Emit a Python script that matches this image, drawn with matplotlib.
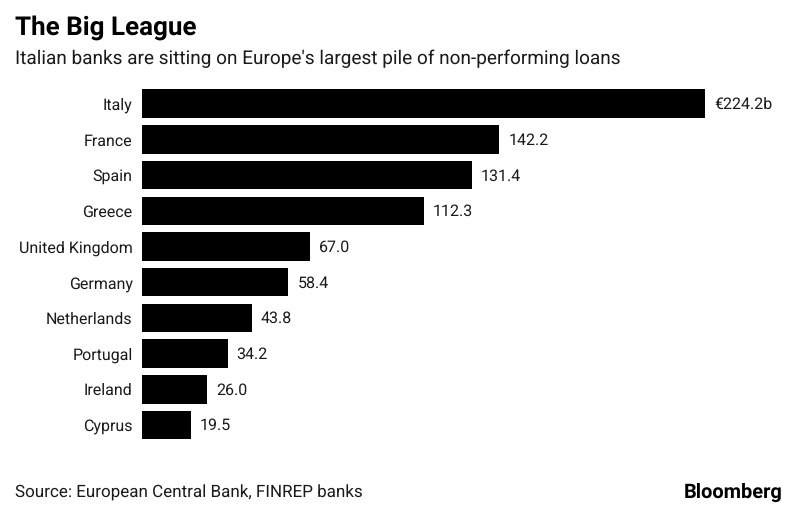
import matplotlib
matplotlib.use("Agg")
import matplotlib.pyplot as plt

countries = ["Italy", "France", "Spain", "Greece", "United Kingdom", "Germany",
             "Netherlands", "Portugal", "Ireland", "Cyprus"]
values = [224.2, 142.2, 131.4, 112.3, 67.0, 58.4, 43.8, 34.2, 26.0, 19.5]
labels = ["€224.2b", "142.2", "131.4", "112.3", "67.0", "58.4", "43.8", "34.2", "26.0", "19.5"]

W, H = 800, 505
plt.rcParams['font.family'] = ['Roboto', 'Liberation Sans', 'DejaVu Sans']
plt.rcParams['text.hinting'] = 'no_hinting'
plt.rcParams['text.hinting_factor'] = 1
fig = plt.figure(figsize=(W/100, H/100), dpi=100, facecolor='white')
step = (425 - 103.7) / 9
top_px = 103.7 - step/2
bot_px = 425 + step/2
ax = fig.add_axes([141.5/W, 1 - bot_px/H, (705.5-141.5)/W, (bot_px-top_px)/H])
ypos = list(range(len(countries)))
ax.barh(ypos, values, height=0.8, color='black')
ax.set_xlim(0, 224.2)
ax.set_ylim(len(countries)-0.5, -0.5)
ax.set_yticks(ypos)
ax.set_yticklabels(countries, fontsize=11.8, color='#1a1a1a', va='center_baseline')
ax.set_xticks([])
ax.tick_params(axis='y', length=0, pad=6.4)
for s in ax.spines.values():
    s.set_visible(False)
for y, v, l in zip(ypos, values, labels):
    ax.annotate(l, (v, y), xytext=(6.5, 0.5), textcoords='offset points', va='center_baseline',
                ha='left', fontsize=11.8, color='#1a1a1a', clip_on=False)

fig.text(15/W, 1 - 28/H, "The Big League", fontsize=19.0, fontweight='bold', va='center', ha='left', color='black')
fig.text(15/W, 1 - 59/H, "Italian banks are sitting on Europe's largest pile of non-performing loans",
         fontsize=13.76, va='center', ha='left', color='#1a1a1a')
fig.text(15/W, 1 - 493/H, "Source: European Central Bank, FINREP banks", fontsize=12.2, va='center', ha='left', color='#1a1a1a')
fig.text(783/W, 1 - 492/H, "Bloomberg", fontsize=14.3, fontweight='bold', va='center', ha='right', color='black')
fig.savefig("out.png", dpi=100, facecolor='white')
